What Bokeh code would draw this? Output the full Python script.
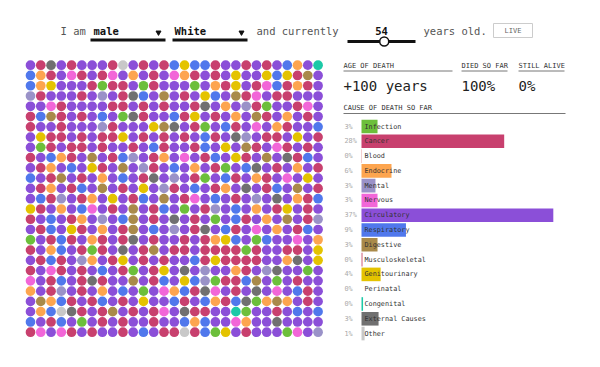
from bokeh.plotting import figure
from bokeh.models import Range1d
from bokeh.core.properties import value
from bokeh.embed import file_html
from bokeh.resources import INLINE

# ---------------- data ----------------
sex = "male"
race = "White"
age = 54
age_max = 100
age_of_death = "+100 years"
died_pct = 100
alive_pct = 0

causes = ["Infection", "Cancer", "Blood", "Endocrine", "Mental", "Nervous",
          "Circulatory", "Respiratory", "Digestive", "Musculoskeletal",
          "Genitourinary", "Perinatal", "Congenital", "External Causes", "Other"]
cause_pct = [3.1, 27.6, 0.1, 5.8, 2.7, 3.1, 37.1, 8.6, 3.1, 0.2, 3.7, 0.0, 0.3, 3.3, 0.6]
cause_codes = ["G", "C", "R", "O", "L", "K", "P", "B", "D", "M", "Y", "N", "T", "X", "W"]
cause_colors = ["#6cbf3b", "#c8406e", "#e8a0a0", "#fda54f", "#9a92c8", "#f266d8",
                "#8b4fd8", "#5078ec", "#a98a4a", "#d0607a", "#e4c300", "#f0e0a0",
                "#1cc9a7", "#707070", "#c8c8c8"]

# one string per row of dots, one letter (cause code) per dot
dot_rows = [
    "PCXPCPPPCWPCPCBYBBCPPCPCPBOPT",
    "BOCPKCPCKPOPCPKOCPCPYPPYBYCDP",
    "BOYPPPCGCCPGCPPPGPOCYPCKBCOCP",
    "LCPPPCPLPCXBPDPCPYBPDCKPCCPPP",
    "PPKCPPPPCCPCPCPPCXPOPLCGPPCKP",
    "CBDCPCPBPGXCPPBCYPCPOPDCPOPCP",
    "CPPCPPPLCPPPYDXPCGPBCPKPOCPPB",
    "PYCCPCPCCYPCPCPCPBCPXLPCCPYPC",
    "PGCPCCPCPPCPBCPPCBPYPDCPKCPCP",
    "CPBOCPDPCBLPCOPKPCBPYCPDPXCBP",
    "PCOPBPYCPDPLCPBPOPCGPBXPCPOPC",
    "BPCDPCPOPBPCXPLPCGPBCPOCPKPYP",
    "PCOPCBPDPCPYPLCPBPCOPXPCBPDPC",
    "PBCLPCOPYPCBPDPCKPBPCPLPXPOCB",
    "YCPOPBKPCPDPCBPGPCLPBPOPCYPCP",
    "CPBPCOPLPBDPCPXPCPGPBCPOPDPCL",
    "PCBPYCPOPCDPBPLPCXPBCPKPOPCBP",
    "GPCBCPOCPCXPCPPCPCOYBPGBPPKPO",
    "CPOBPCGCPXPCDPCCPCCCCGCPPCCPY",
    "PCBCPLOPCYPCPCPPBCYCCCCPPOXPY",
    "CPKCPCPBPCGPCYPXPLPPOCPLXPPGP",
    "KPCBPCXCPPDPCBPYBLGCCBDPGPCPP",
    "OPCLPCPOPBPGPKOBCXKPCPXPKPBCP",
    "PDOBCPCBPCPYPPBCPBOCBXGODOPCP",
    "POBWXCPCDPCPCKPXCCPPTGPPCPBPB",
    "BPCBPGPCPCPPCPPBOBPPKOPPXPPPP",
    "CKPKCPCPPCPBPCCWCBGYPCPPPGKPL",
]

# ---------------- layout ----------------
W, H = 584, 351
FONT = value("DejaVu Sans Mono")
p = figure(width=W, height=H, x_range=Range1d(0, W), y_range=Range1d(H, 0),
           toolbar_location=None, output_backend="svg", min_border=0,
           x_axis_location=None, y_axis_location=None)
p.grid.visible = False
p.outline_line_color = None
p.background_fill_color = "white"

# dot grid scale
GX0, GY0, GD = 30.0, 64.7, 10.27
p.extra_x_ranges["gx"] = Range1d((0 - GX0) / GD, (W - GX0) / GD)
p.extra_y_ranges["gy"] = Range1d((H - GY0) / GD, (0 - GY0) / GD)
# bar scale
BX0, BDX = 361.0, 5.17
BY0, BDY = 126.0, 14.79
p.extra_x_ranges["bx"] = Range1d((0 - BX0) / BDX, (W - BX0) / BDX)
p.extra_y_ranges["by"] = Range1d((H - BY0) / BDY, (0 - BY0) / BDY)

code_color = dict(zip(cause_codes, cause_colors))
xs, ys, cs = [], [], []
for r, row in enumerate(dot_rows):
    for c, ch in enumerate(row[:29]):
        xs.append(c); ys.append(r); cs.append(code_color.get(ch, "#8b4fd8"))
p.scatter(xs, ys, size=9.7, fill_color=cs, line_color=None,
          x_range_name="gx", y_range_name="gy")

# ---- header ----
def txt(x, y, s, size="10.5px", color="#555", style="normal", align="left"):
    p.text([x], [y], text=[s], text_font=FONT, text_font_size=size, text_color=color,
           text_font_style=style, text_align=align, text_baseline="middle")

txt(60, 30.5, "I am")
txt(93, 30.5, sex, color="#111", style="bold")
p.segment([90], [39.5], [165], [39.5], line_width=3, line_color="#111")
p.scatter([158], [32], marker="inverted_triangle", size=5, color="#111")
txt(174, 30.5, race, color="#111", style="bold")
p.segment([172], [39.5], [247], [39.5], line_width=3, line_color="#111")
p.scatter([241], [32], marker="inverted_triangle", size=5, color="#111")
txt(256, 30.5, "and currently")
txt(381, 30.5, str(age), color="#111", style="bold", align="center")
SL0, SL1 = 347, 415
p.segment([SL0], [41], [SL1], [41], line_width=3, line_color="#111")
p.scatter([SL0 + (SL1 - SL0) * age / age_max], [41], size=9, fill_color="white",
          line_color="#111", line_width=1.5)
txt(423, 30.5, "years old.")
p.quad(left=[493], right=[532], top=[23], bottom=[37], fill_color="white",
       line_color="#cccccc", line_width=1)
txt(512.5, 30, "LIVE", size="7px", color="#666", align="center")

# ---- stats ----
txt(343, 65, "AGE OF DEATH", size="7px", color="#333")
p.segment([343], [70.5], [452], [70.5], line_width=1, line_color="#777")
txt(461, 65, "DIED SO FAR", size="7px", color="#333")
p.segment([461], [70.5], [507], [70.5], line_width=1, line_color="#777")
txt(518, 65, "STILL ALIVE", size="7px", color="#333")
p.segment([518], [70.5], [564], [70.5], line_width=1, line_color="#777")
txt(343, 85, age_of_death, size="14px", color="#222")
txt(461, 85, f"{died_pct}%", size="14px", color="#222")
txt(518, 85, f"{alive_pct}%", size="14px", color="#222")
txt(343, 107.5, "CAUSE OF DEATH SO FAR", size="7px", color="#333")
p.segment([343], [113], [565], [113], line_width=1, line_color="#777")

# ---- bars ----
idx = list(range(len(causes)))
p.hbar(y=idx, left=0, right=cause_pct, height=13.6 / BDY, fill_color=cause_colors,
       line_color=None, x_range_name="bx", y_range_name="by")
p.text(x=[0] * len(causes), y=idx, text=causes, x_offset=3, text_font=FONT,
       text_font_size="6.8px", text_color="#333", text_baseline="middle",
       x_range_name="bx", y_range_name="by")
p.text(x=[0] * len(causes), y=idx, text=[f"{round(v)}%" for v in cause_pct],
       x_offset=-17, text_font=FONT, text_font_size="6.8px", text_color="#aaa",
       text_baseline="middle", x_range_name="bx", y_range_name="by")

open("out.html", "w").write(file_html(p, INLINE))
